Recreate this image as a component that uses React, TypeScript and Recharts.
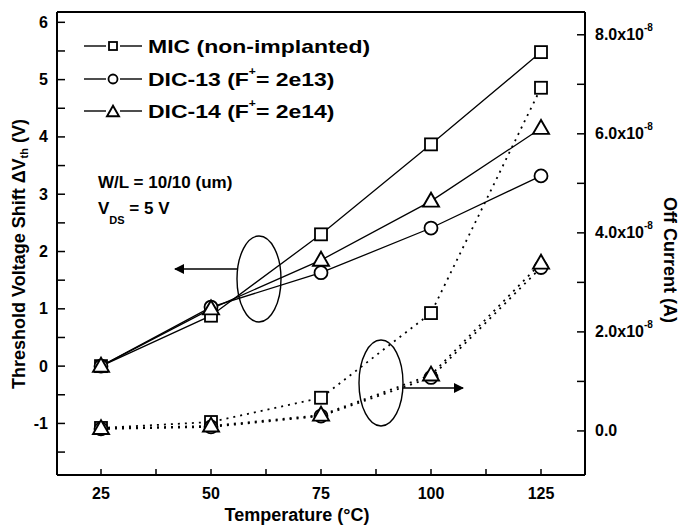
import React from "react";
import { ComposedChart, Line, XAxis, YAxis, ReferenceLine } from "recharts";

const temps = [25, 50, 75, 100, 125];
const micShift = [0, 0.88, 2.3, 3.87, 5.48];
const dic13Shift = [0, 1.03, 1.63, 2.41, 3.32];
const dic14Shift = [0, 1.0, 1.85, 2.88, 4.15];
const micOff = [0.06e-8, 0.18e-8, 0.67e-8, 2.38e-8, 6.93e-8];
const dic13Off = [0.04e-8, 0.08e-8, 0.3e-8, 1.08e-8, 3.3e-8];
const dic14Off = [0.05e-8, 0.1e-8, 0.32e-8, 1.13e-8, 3.39e-8];

const xTicks = [25, 37.5, 50, 62.5, 75, 87.5, 100, 112.5, 125];
const leftTicks = [-1.5, -1, -0.5, 0, 0.5, 1, 1.5, 2, 2.5, 3, 3.5, 4, 4.5, 5, 5.5, 6];
const rightTicks = [0, 1e-8, 2e-8, 3e-8, 4e-8, 5e-8, 6e-8, 7e-8, 8e-8];

const data = temps.map((t, i) => ({
  t,
  mic: micShift[i],
  dic13: dic13Shift[i],
  dic14: dic14Shift[i],
  micOff: micOff[i],
  dic13Off: dic13Off[i],
  dic14Off: dic14Off[i],
}));

const FONT = "'Liberation Sans', Arial, sans-serif";
const LEFT_MAX = 6.18;

function Square({ cx, cy, size = 12 }: any) {
  if (cx == null || cy == null) return null;
  return <rect x={cx - size / 2} y={cy - size / 2} width={size} height={size} fill="#fff" stroke="#000" strokeWidth={1.8} />;
}
function Circle({ cx, cy, size = 13 }: any) {
  if (cx == null || cy == null) return null;
  return <circle cx={cx} cy={cy} r={size / 2} fill="#fff" stroke="#000" strokeWidth={1.8} />;
}
function Triangle({ cx, cy, size = 16 }: any) {
  if (cx == null || cy == null) return null;
  const h = size * 0.87;
  return (
    <polygon
      points={`${cx},${cy - h * 0.6} ${cx - size / 2},${cy + h * 0.4} ${cx + size / 2},${cy + h * 0.4}`}
      fill="#fff"
      stroke="#000"
      strokeWidth={1.9}
    />
  );
}

function XTick({ x, y, payload }: any) {
  if (payload.value % 25 !== 0) return null;
  return (
    <text x={x} y={y} textAnchor="middle" dominantBaseline="central" fontFamily={FONT} fontWeight="bold" fontSize={16}>
      {payload.value}
    </text>
  );
}
function LeftTick({ x, y, payload }: any) {
  if (payload.value % 1 !== 0) return null;
  return (
    <text x={x} y={y} textAnchor="end" dominantBaseline="central" fontFamily={FONT} fontWeight="bold" fontSize={16}>
      {payload.value}
    </text>
  );
}
function RightTick({ x, y, payload }: any) {
  const n = Math.round(payload.value / 1e-8);
  if (n % 2 !== 0) return null;
  if (n === 0)
    return (
      <text x={x} y={y} textAnchor="start" dominantBaseline="central" fontFamily={FONT} fontWeight="bold" fontSize={16}>
        0.0
      </text>
    );
  return (
    <text x={x} y={y} textAnchor="start" dominantBaseline="central" fontFamily={FONT} fontWeight="bold" fontSize={16}>
      {n.toFixed(1)}x10
      <tspan dy={-8} fontSize={10}>-8</tspan>
    </text>
  );
}

const legendRows = [
  { name: "MIC (non-implanted)", shape: "square" },
  { name: "DIC-13 (F", sup: "+", rest: "= 2e13)", shape: "circle" },
  { name: "DIC-14 (F", sup: "+", rest: "= 2e14)", shape: "triangle" },
];

function Overlay() {
  const rowY = [46, 79, 111];
  return (
    <svg width={683} height={526} style={{ position: "absolute", left: 0, top: 0, pointerEvents: "none" }}>
      <defs>
        <marker id="ah" markerWidth="10" markerHeight="10" refX="9" refY="5" orient="auto" markerUnits="userSpaceOnUse">
          <path d="M0,0 L10,5 L0,10 z" fill="#000" />
        </marker>
      </defs>
      {legendRows.map((r, i) => (
        <g key={r.name}>
          <line x1={84} x2={106} y1={rowY[i]} y2={rowY[i]} stroke="#000" strokeWidth={1.4} />
          <line x1={120} x2={142} y1={rowY[i]} y2={rowY[i]} stroke="#000" strokeWidth={1.4} />
          {r.shape === "square" && <Square cx={113} cy={rowY[i]} size={8} />}
          {r.shape === "circle" && <Circle cx={113} cy={rowY[i]} size={9} />}
          {r.shape === "triangle" && <Triangle cx={113} cy={rowY[i] + 1} size={12} />}
          <text
            transform={`translate(148,${rowY[i]}) scale(1.21,1)`}
            dominantBaseline="central"
            fontFamily={FONT}
            fontWeight="bold"
            fontSize={19}
          >
            {r.name}
            {r.sup && (
              <tspan dy={-8} fontSize={10}>
                {r.sup}
              </tspan>
            )}
            {r.rest && <tspan dy={8}>{r.rest}</tspan>}
          </text>
        </g>
      ))}
      <text x={98} y={182} dominantBaseline="central" fontFamily={FONT} fontWeight="bold" fontSize={17}>
        W/L = 10/10 (um)
      </text>
      <text x={98} y={208} dominantBaseline="central" fontFamily={FONT} fontWeight="bold" fontSize={17}>
        V
        <tspan dy={12} fontSize={11}>DS</tspan>
        <tspan dy={-12}> = 5 V</tspan>
      </text>
      <ellipse cx={259} cy={279} rx={22} ry={43} fill="none" stroke="#000" strokeWidth={1.4} />
      <line x1={237} y1={269} x2={175} y2={269} stroke="#000" strokeWidth={1.4} markerEnd="url(#ah)" />
      <ellipse cx={381} cy={383} rx={22} ry={43} fill="none" stroke="#000" strokeWidth={1.4} />
      <line x1={403} y1={388} x2={463} y2={388} stroke="#000" strokeWidth={1.4} markerEnd="url(#ah)" />
      <text
        transform="translate(19,254) rotate(-90)"
        textAnchor="middle"
        dominantBaseline="central"
        fontFamily={FONT}
        fontWeight="bold"
        fontSize={18}
      >
        Threshold Voltage Shift ΔV
        <tspan dy={5} fontSize={11}>th</tspan>
        <tspan dy={-5}>{"  (V)"}</tspan>
      </text>
      <text
        transform="translate(670,260) rotate(90)"
        textAnchor="middle"
        dominantBaseline="central"
        fontFamily={FONT}
        fontWeight="bold"
        fontSize={18}
      >
        Off Current (A)
      </text>
      <text x={297} y={515} textAnchor="middle" dominantBaseline="central" fontFamily={FONT} fontWeight="bold" fontSize={18}>
        Temperature (°C)
      </text>
    </svg>
  );
}

export default function App() {
  const axisLine = { stroke: "#000", strokeWidth: 2 };
  const tickLine = { stroke: "#000", strokeWidth: 1.5 };
  return (
    <div style={{ position: "absolute", left: 0, top: 0, width: 683, height: 526, background: "#fff" }}>
      <ComposedChart width={683} height={526} data={data} margin={{ top: 12, right: 38, bottom: 21, left: 17 }}>
        <XAxis
          dataKey="t"
          type="number"
          domain={[15, 135]}
          ticks={xTicks}
          allowDataOverflow
          height={30}
          axisLine={axisLine}
          tickLine={tickLine}
          tickSize={-6}
          tickMargin={24}
          tick={<XTick />}
          interval={0}
        />
        <YAxis
          yAxisId="left"
          domain={[-1.9, LEFT_MAX]}
          ticks={leftTicks}
          allowDataOverflow
          width={40}
          axisLine={axisLine}
          tickLine={tickLine}
          tickSize={-8}
          tickMargin={17}
          tick={<LeftTick />}
          interval={0}
        />
        <YAxis
          yAxisId="right"
          orientation="right"
          domain={[-0.89e-8, 8.46e-8]}
          ticks={rightTicks}
          allowDataOverflow
          width={60}
          axisLine={axisLine}
          tickLine={tickLine}
          tickSize={-8}
          tickMargin={18}
          tick={<RightTick />}
          interval={0}
        />
        <ReferenceLine yAxisId="left" y={LEFT_MAX} stroke="#000" strokeWidth={2} />
        <Line yAxisId="right" dataKey="micOff" stroke="#000" strokeWidth={1.8} strokeDasharray="2 5" dot={<Square />} isAnimationActive={false} />
        <Line yAxisId="right" dataKey="dic13Off" stroke="#000" strokeWidth={1.8} strokeDasharray="2 5" dot={<Circle />} isAnimationActive={false} />
        <Line yAxisId="right" dataKey="dic14Off" stroke="#000" strokeWidth={1.8} strokeDasharray="2 5" dot={<Triangle />} isAnimationActive={false} />
        <Line yAxisId="left" dataKey="mic" stroke="#000" strokeWidth={1.3} dot={<Square />} isAnimationActive={false} />
        <Line yAxisId="left" dataKey="dic13" stroke="#000" strokeWidth={1.3} dot={<Circle />} isAnimationActive={false} />
        <Line yAxisId="left" dataKey="dic14" stroke="#000" strokeWidth={1.3} dot={<Triangle />} isAnimationActive={false} />
      </ComposedChart>
      <Overlay />
    </div>
  );
}
